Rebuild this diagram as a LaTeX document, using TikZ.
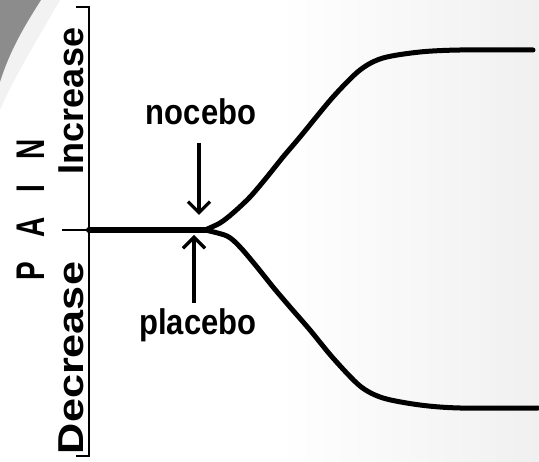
\documentclass[tikz,border=0pt]{standalone}
\usepackage{fontspec}
\setmainfont{Liberation Sans}
\usepackage{graphicx}
\usetikzlibrary{positioning, arrows.meta, calc}
\definecolor{painblack}{HTML}{000000}
\definecolor{paingray}{HTML}{8C8C8C}
\definecolor{painfade}{HTML}{F0F0F0}

\begin{document}
\begin{tikzpicture}[x=1pt, y=-1pt,
    lbl/.style={font=\fontsize{31}{31}\selectfont\bfseries, text=painblack,
                inner sep=0pt, anchor=base},
    axislbl/.style={font=\fontsize{36}{36}\selectfont\bfseries, text=painblack,
                    inner sep=0pt, anchor=base, rotate=90},
    ptr/.style={draw=painblack, line width=3.3pt,
                -{Straight Barb[length=11pt, width=22pt]}},
    axisln/.style={draw=painblack, line width=1.8pt},
    curve/.style={draw=painblack, line width=5pt, line cap=round, line join=round}]
    % background
    \fill[white] (0,0) rectangle (539,462);
    \shade[left color=white, right color=painfade] (280,0) rectangle (539,462);
    \fill[black!5] (0,0) -- (60,0) .. controls (40,35) and (15,75) .. (0,110) -- cycle;
    \fill[paingray] (0,0) -- (41,0) .. controls (25,25) and (10,50) .. (0,82) -- cycle;
    \useasboundingbox (0,0) rectangle (539,462);
    % axis
    \coordinate (axtop) at (89,7);
    \coordinate (axmid) at (89,230);
    \coordinate (axbot) at (89,456);
    \draw[axisln] ($(axtop)+(-13,0)$) -- (axtop) -- (axbot) -- ($(axbot)+(-13,0)$);
    \draw[axisln] ($(axmid)+(-27,0)$) -- (axmid);
    \node[axislbl] (incr) at (83,101) {Increase};
    \node[axislbl] (decr) at (83,358) {\scalebox{1.2}[1]{Decrease}};
    \node[axislbl, font=\fontsize{40}{40}\selectfont\bfseries] (pain) at (45,210)
        {\scalebox{0.7}[1]{P\hspace{35pt}A\hspace{36pt}I\hspace{36pt}N}};
    % curves
    \coordinate (split) at (205,230);
    \draw[curve, line width=6pt] (axmid) -- (split);
    \draw[curve] plot[smooth, tension=0.5] coordinates {(split) (220,223) (233,213)
        (250,197) (267,177) (283,157) (300,137) (333,97) (360,70) (383,58) (420,52)
        (460,50) (533,50)};
    \draw[curve] plot[smooth, tension=0.5] coordinates {(split) (227,236) (240,247)
        (257,267) (273,287) (290,307) (310,330) (333,358) (360,386) (383,398) (420,405)
        (460,408) (538,408)};
    % labels and arrows
    \node[lbl] (nocebo) at (201,125) {\scalebox{1}[1.15]{nocebo}};
    \node[lbl] (placebo) at (198,335) {\scalebox{1}[1.15]{placebo}};
    \coordinate (noctip) at (199,215);
    \coordinate (platip) at (194,235);
    \draw[ptr, shorten <=17pt] (nocebo.south -| noctip) -- (noctip);
    \draw[ptr, shorten <=6pt] (placebo.north -| platip) -- (platip);
  \end{tikzpicture}
\end{document}
